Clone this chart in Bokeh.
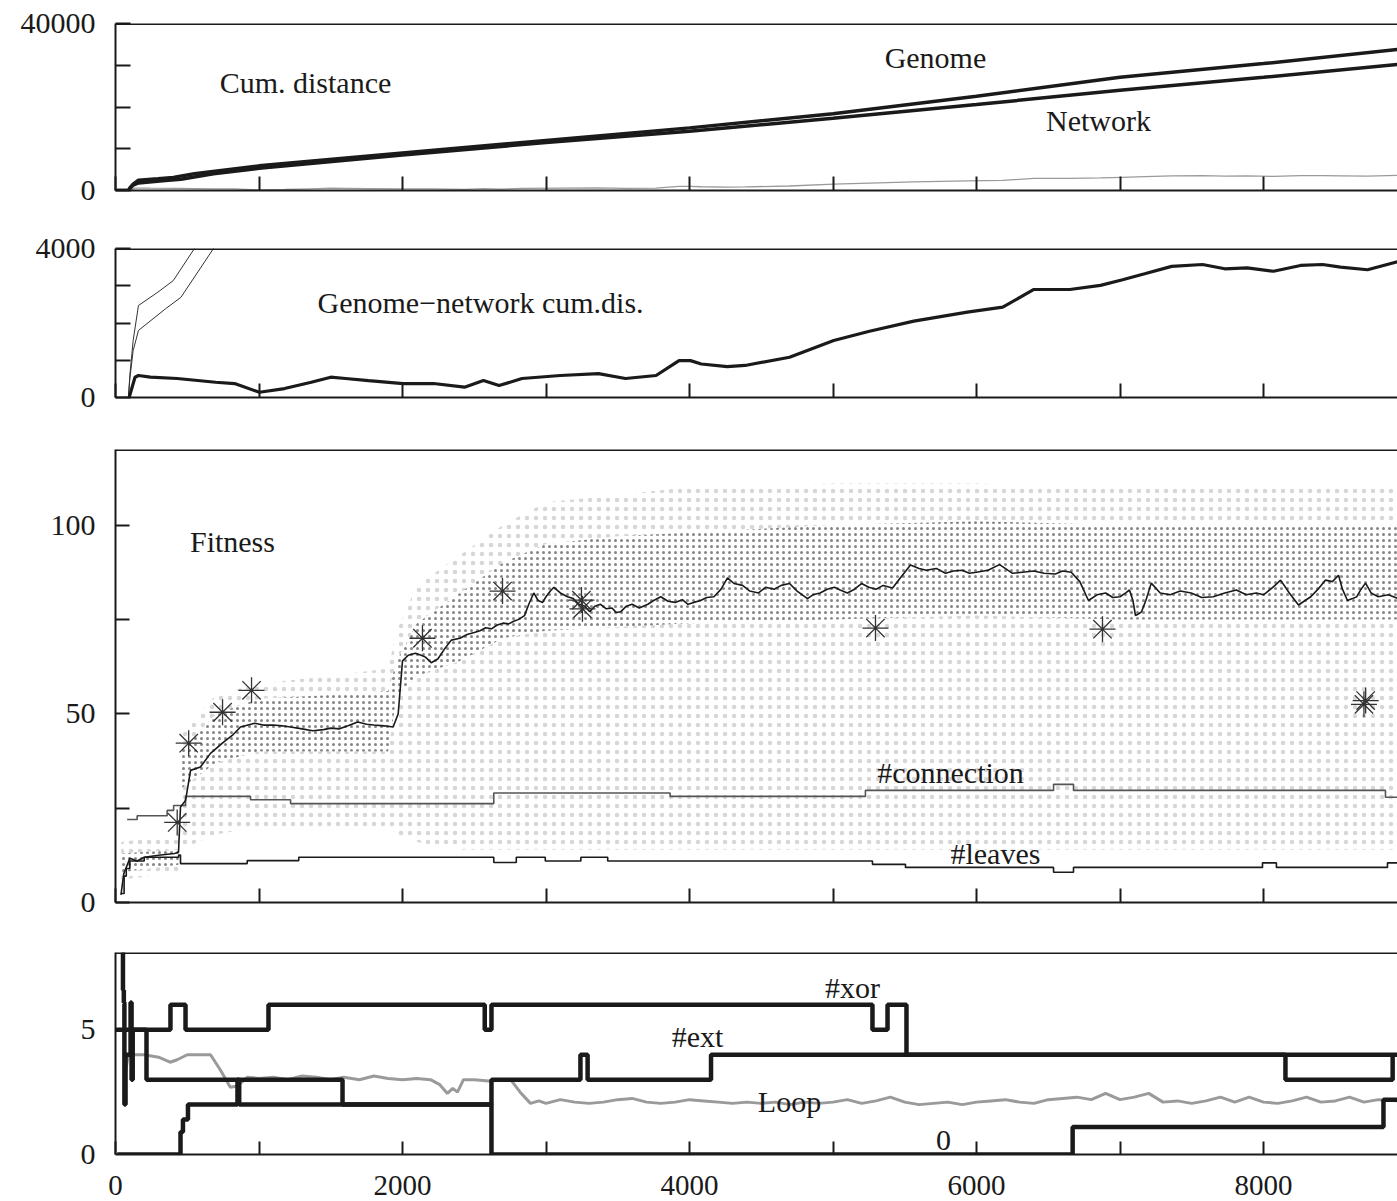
from bokeh.plotting import figure
from bokeh.models import Range1d, FixedTicker, Span, Label
from bokeh.layouts import column
from bokeh.embed import file_html
from bokeh.resources import INLINE

# ---------------- data ----------------
# Panel 1/2: cumulative distances
genome_x = [0, 90, 100, 123, 160, 296, 403, 550, 1000, 2000, 3000, 4000, 5000, 6000, 7000, 8000, 8940]
genome_y = [0, 0, 600, 1530, 2470, 2830, 3140, 4000, 5900, 9000, 12000, 15000, 18400, 22600, 27100, 30400, 33800]
network_x = [0, 90, 100, 123, 160, 348, 456, 683, 1000, 2000, 3000, 4000, 5000, 6000, 7000, 8000, 8940]
network_y = [0, 0, 500, 1260, 1800, 2380, 2690, 4000, 5300, 8500, 11500, 14200, 17300, 20600, 24000, 27100, 30200]
diff_x = [95, 136, 160, 243, 430, 697, 830, 1003, 1178, 1364, 1500, 1603, 1763, 2005, 2216, 2432, 2564,
          2673, 2833, 3100, 3366, 3554, 3767, 3927, 4007, 4082, 4263, 4387, 4697, 5005, 5254, 5563, 5936,
          6183, 6400, 6650, 6864, 7018, 7172, 7360, 7575, 7730, 7886, 8070, 8258, 8412, 8537, 8725, 8940]
diff_y = [0, 545, 590, 545, 510, 410, 375, 140, 240, 410, 545, 510, 455, 375, 375, 277, 455,
          320, 510, 590, 640, 510, 590, 990, 990, 900, 830, 860, 1080, 1530, 1780, 2050, 2290,
          2425, 2900, 2900, 3010, 3160, 3320, 3520, 3570, 3455, 3480, 3390, 3545, 3570, 3500, 3430, 3650]

# Panel 3: fitness of the best individual
fit_x = [38, 58, 100, 150, 200, 300, 411, 439, 453, 488, 523, 592, 662, 753, 820, 871, 970, 1030, 1100,
         1160, 1220, 1300, 1375, 1450, 1500, 1561, 1620, 1688, 1750, 1800, 1872, 1935, 1970, 2000, 2040,
         2090, 2130, 2160, 2200, 2246, 2290, 2340, 2400, 2450, 2500, 2540, 2580, 2620, 2660, 2700, 2740,
         2775, 2810, 2850, 2880, 2915, 2945, 2977, 3000, 3030, 3055, 3100, 3150, 3190, 3230, 3270, 3305,
         3340, 3380, 3420, 3460, 3490, 3520, 3560, 3600, 3650, 3710, 3750, 3800, 3850, 3900, 3950, 3990,
         4030, 4077, 4120, 4170, 4220, 4265, 4310, 4370, 4420, 4481, 4530, 4590, 4640, 4697, 4750, 4822,
         4860, 4910, 4960, 5010, 5050, 5100, 5150, 5199, 5250, 5300, 5350, 5415, 5470, 5540, 5600, 5650,
         5720, 5784, 5840, 5900, 5950, 6000, 6080, 6160, 6200, 6251, 6320, 6400, 6470, 6550, 6600, 6660,
         6720, 6780, 6840, 6900, 6950, 7000, 7040, 7066, 7090, 7108, 7130, 7150, 7180, 7218, 7280, 7350,
         7420, 7496, 7570, 7650, 7730, 7811, 7880, 7950, 8000, 8050, 8080, 8119, 8180, 8244, 8290, 8330,
         8380, 8432, 8480, 8523, 8550, 8585, 8620, 8650, 8680, 8711, 8750, 8800, 8870, 8940]
fit_y = [2, 7.7, 11.7, 11, 12, 12.5, 13, 13.3, 25.3, 27, 35, 35.9, 39.5, 42.5, 44.5, 46.5, 47.5, 47, 47,
         46.8, 46.5, 46, 45.5, 45.8, 46.2, 46, 46.8, 47.8, 47.2, 47, 46.8, 46.5, 50, 64, 65.5,
         66, 65.5, 65, 63.5, 64.5, 67, 69.5, 70, 71, 71.5, 72, 72.8, 72.5, 73.5, 74, 73.8,
         74.5, 75, 76, 79, 82, 80, 79.5, 81, 82.5, 83.5, 82, 81, 80.5, 79, 78.5, 77,
         78.5, 79, 77.8, 78, 76.8, 77, 78.5, 79, 78, 79, 80, 81, 79.8, 79.5, 80.2, 79,
         79.5, 80, 80.8, 81, 83, 86, 84.5, 84, 82.5, 82, 83.5, 83, 84, 84.5, 82.5, 80.5,
         81.5, 82, 83, 83.5, 82.8, 82, 83, 84.5, 83.5, 83, 84, 83.3, 86, 89.4, 88.5, 88,
         88.5, 87.2, 87.8, 88, 87.2, 87.5, 88, 89.5, 88.5, 87.2, 87.5, 87.8, 87.2, 87, 87.8, 87.5,
         85, 80, 81.5, 82, 80.8, 81, 82, 82.8, 80, 76, 76.5, 77, 80, 84.6, 82, 81.5,
         82.5, 82, 80.8, 81, 82, 82.8, 81.5, 82, 81.5, 83, 84, 85.4, 82, 78.8, 80, 81,
         83, 85.4, 85, 86.7, 83, 80, 80.5, 81, 83, 84.6, 82, 81, 81.5, 80.5]
star_x = [430, 510, 746, 948, 2139, 2697, 3247, 3254, 5296, 6878, 8700, 8712]
star_y = [21.2, 42.2, 50.4, 56.2, 70, 82.5, 80.1, 77.8, 72.7, 72.4, 52.5, 53.5]
conn_x = [81, 151, 360, 405, 488, 941, 1220, 2636, 3865, 5226, 6537, 6676, 8850, 8940]
conn_y = [22, 23, 24.4, 25.7, 28.1, 27.2, 26.2, 29.0, 28.1, 29.7, 31.3, 29.7, 27.9, 27.9]
leaves_x = [38, 60, 75, 100, 200, 440, 453, 918, 1277, 2636, 2793, 2995, 3243, 3430, 5275, 5505, 6537,
            6676, 7993, 8090, 8864, 8940]
leaves_y = [2.4, 7, 9, 11, 12, 12.6, 10.3, 11.1, 12, 10.6, 12, 11, 12, 11, 10.1, 9.3, 8,
            9.3, 10.5, 9.3, 10.5, 10.5]
# population cloud envelope (dense core and sparse halo)
cloud_x = [40, 440, 450, 700, 1000, 1500, 1900, 1960, 2100, 2400, 2700, 3000, 3500, 4000, 5000, 6000, 7000, 8000, 8940]
dense_lo = [8, 10, 30, 37, 40, 40, 40, 55, 60, 64, 70, 72, 73, 74, 75, 76, 75, 75, 75]
dense_hi = [13, 14, 40, 50, 54, 55, 56, 64, 74, 82, 90, 95, 97, 98, 100, 101, 100, 100, 100]
sparse_lo = [6, 8, 14, 18, 20, 20, 20, 18, 16, 14, 14, 14, 14, 14, 14, 14, 14, 14, 14]
sparse_hi = [16, 18, 44, 55, 58, 60, 62, 72, 84, 92, 100, 106, 108, 110, 111, 111, 110, 110, 110]

# Panel 4: structure counts (step changes)
xor_x = [0, 383, 488, 1066, 2573, 2620, 5275, 5380, 5512, 8153, 8900]
xor_y = [5, 6, 5, 6, 5, 6, 5, 6, 4, 3, 4]
ext_x = [45, 52, 58, 62, 70, 105, 112, 120, 216, 1582, 2620, 3240, 3290, 4150, 8940]
ext_y = [8.1, 6.6, 6.1, 2.0, 4.0, 6.1, 3.0, 5.0, 3.0, 2.0, 3.0, 4.0, 3.0, 4.0, 4.0]
zero_x = [12, 453, 470, 505, 850, 862, 2620, 6670, 8836, 8940]
zero_y = [0, 0.9, 1.4, 2.0, 3.0, 2.0, 0, 1.1, 2.2, 2.2]
loop_x = [60, 75, 90, 200, 300, 380, 430, 500, 662, 730, 800, 850, 920, 1000, 1100, 1200, 1300, 1400,
          1500, 1590, 1700, 1800, 1900, 2000, 2100, 2195, 2260, 2313, 2350, 2383, 2425, 2500, 2600,
          2753, 2820, 2892, 2950, 3000, 3100, 3200, 3300, 3400, 3500, 3600, 3700, 3800, 3900, 4000,
          4100, 4200, 4300, 4400, 4500, 4600, 4700, 4800, 4900, 5000, 5100, 5200, 5300, 5400, 5500,
          5600, 5700, 5800, 5900, 6000, 6100, 6200, 6300, 6400, 6500, 6600, 6700, 6800, 6900, 7000,
          7100, 7200, 7300, 7400, 7500, 7600, 7700, 7800, 7900, 8000, 8100, 8200, 8300, 8400, 8500,
          8600, 8700, 8800, 8940]
loop_y = [2.6, 3.5, 4.0, 4.0, 3.9, 3.7, 3.8, 4.0, 4.0, 3.4, 2.7, 2.75, 3.1, 3.05, 3.1, 3.0, 3.15, 3.1,
          3.0, 3.1, 3.0, 3.15, 3.05, 3.0, 3.05, 3.0, 2.8, 2.45, 2.65, 2.5, 3.0, 3.0, 2.95,
          3.0, 2.5, 2.05, 2.15, 2.05, 2.2, 2.1, 2.05, 2.1, 2.2, 2.25, 2.1, 2.05, 2.1, 2.2,
          2.15, 2.1, 2.05, 2.1, 2.05, 2.1, 2.0, 2.1, 2.05, 2.1, 2.2, 2.05, 2.15, 2.3, 2.1,
          2.0, 2.05, 2.1, 2.0, 2.1, 2.15, 2.2, 2.1, 2.05, 2.2, 2.25, 2.3, 2.2, 2.45, 2.2,
          2.3, 2.45, 2.1, 2.15, 2.05, 2.15, 2.3, 2.1, 2.3, 2.1, 2.05, 2.15, 2.3, 2.1, 2.15,
          2.3, 2.1, 2.2, 2.15]

x_ticks = [0, 1000, 2000, 3000, 4000, 5000, 6000, 7000, 8000]
x_tick_labels = ["0", "", "2000", "", "4000", "", "6000", "", "8000"]

# ---------------- style ----------------
FONT = "Liberation Serif"
INK = "#1a1a1a"
W = 1397
LEFT = 115
XMAX = (W - LEFT) / 143.5 * 1000


def make_fig(h, top, bottom, ymax, yticks, ylabels, ytick_len=14):
    p = figure(width=W, height=h, x_range=Range1d(0, XMAX), y_range=Range1d(0, ymax),
               output_backend="svg", toolbar_location=None,
               min_border_left=LEFT, min_border_right=0, min_border_top=top, min_border_bottom=bottom)
    p.outline_line_color = None
    p.grid.visible = False
    xa = p.xaxis[0]
    xa.ticker = FixedTicker(ticks=x_ticks)
    xa.major_tick_in = 14
    xa.major_tick_out = 0
    xa.major_tick_line_width = 2
    xa.major_tick_line_color = INK
    xa.axis_line_width = 2
    xa.axis_line_color = INK
    xa.major_label_overrides = {t: "" for t in x_ticks}
    xa.major_label_standoff = 0
    ya = p.yaxis[0]
    ya.ticker = FixedTicker(ticks=yticks)
    ya.major_label_overrides = {t: l for t, l in zip(yticks, ylabels)}
    ya.major_tick_in = ytick_len
    ya.major_tick_out = 0
    ya.major_tick_line_width = 2
    ya.major_tick_line_color = INK
    ya.axis_line_width = 2
    ya.axis_line_color = INK
    ya.major_label_text_font = FONT
    ya.major_label_text_font_size = "30px"
    ya.major_label_text_color = INK
    ya.major_label_standoff = 20
    p.add_layout(Span(location=ymax, dimension="width", line_color=INK, line_width=3))
    return p


def label(p, x, y, t, size="30px"):
    p.add_layout(Label(x=x, y=y, text=t, text_font=FONT, text_font_size=size, text_color=INK,
                       text_align="center", text_baseline="middle"))


# Panel 1
p1 = make_fig(219, 23, 29, 40000, [0, 10000, 20000, 30000, 40000], ["0", "", "", "", "40000"], 15)
p1.line(diff_x, diff_y, line_color="#9a9a9a", line_width=1.3)
p1.line(network_x, network_y, line_color=INK, line_width=3.5)
p1.line(genome_x, genome_y, line_color=INK, line_width=3.5)
label(p1, 1324, 25870, "Cum. distance")
label(p1, 5714, 31860, "Genome")
label(p1, 6850, 16770, "Network")

# Panel 2
p2 = make_fig(204, 29, 26, 4000, [0, 1000, 2000, 3000, 4000], ["0", "", "", "", "4000"], 15)
p2.line(genome_x, genome_y, line_color="#333333", line_width=1)
p2.line(network_x, network_y, line_color="#333333", line_width=1)
p2.line(diff_x, diff_y, line_color=INK, line_width=3.2)
label(p2, 2544, 2550, "Genome\u2212network cum.dis.")

# Panel 3
p3 = make_fig(504, 26, 25, 120, [0, 25, 50, 75, 100], ["0", "", "50", "", "100"], 14)
halo = dict(fill_alpha=0, hatch_pattern="dot", hatch_scale=9, hatch_weight=0.5,
            hatch_color="#8c8c8c", hatch_alpha=0.35)
p3.varea(cloud_x, sparse_lo, dense_lo, **halo)
p3.varea(cloud_x, dense_hi, sparse_hi, **halo)
p3.varea(cloud_x, dense_lo, dense_hi, fill_alpha=0, hatch_pattern="dot", hatch_scale=6,
         hatch_weight=0.5, hatch_color="#333333", hatch_alpha=0.6)
p3.step(conn_x, conn_y, mode="after", line_color="#555555", line_width=1.6)
p3.step(leaves_x, leaves_y, mode="after", line_color=INK, line_width=1.6)
p3.line(fit_x, fit_y, line_color=INK, line_width=1.6)
p3.scatter(star_x, star_y, marker="asterisk", size=26, line_color="#333333", line_width=1.3)
label(p3, 815, 95.5, "Fitness")
label(p3, 5819, 34.5, "#connection")
label(p3, 6132, 13, "#leaves")

# Panel 4
p4 = make_fig(274, 25, 47, 8.1, [0, 5], ["0", "5"], 0)
p4.line(loop_x, loop_y, line_color="#9a9a9a", line_width=3)
p4.step(zero_x, zero_y, mode="after", line_color=INK, line_width=4.5)
p4.step(ext_x, ext_y, mode="after", line_color=INK, line_width=4.5)
p4.step(xor_x, xor_y, mode="after", line_color=INK, line_width=4.5)
xa4 = p4.xaxis[0]
xa4.major_label_overrides = {t: l for t, l in zip(x_ticks, x_tick_labels)}
xa4.major_label_text_font = FONT
xa4.major_label_text_font_size = "29px"
xa4.major_label_text_color = INK
xa4.major_label_standoff = 21
xa4.major_tick_in = 13
label(p4, 5136, 6.7, "#xor")
label(p4, 4056, 4.75, "#ext")
label(p4, 4697, 2.13, "Loop")
label(p4, 5770, 0.56, "0")

layout = column(p1, p2, p3, p4, spacing=0)
open("out.html", "w").write(file_html(layout, INLINE))
